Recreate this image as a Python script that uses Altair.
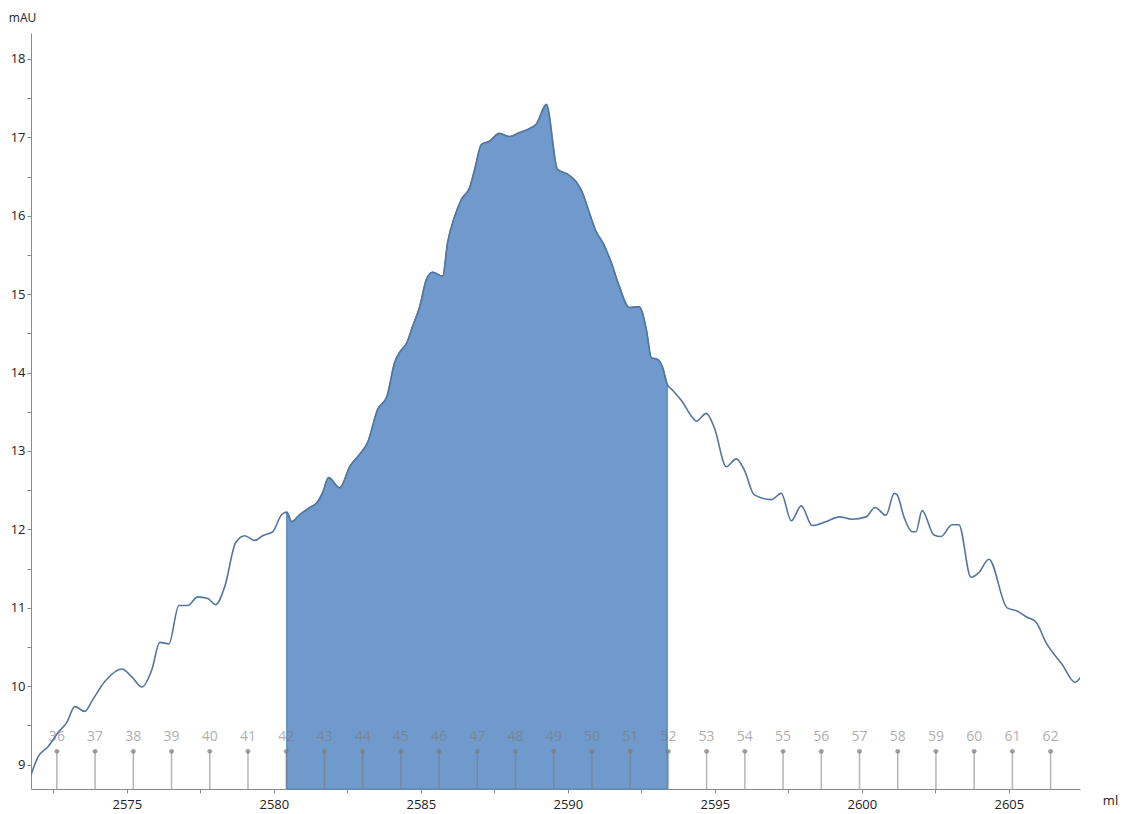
import altair as alt
import pandas as pd

# UV trace (ml, mAU)
volume_ml = [
    2571.74, 2571.98, 2572.32, 2572.66, 2572.96, 2573.23, 2573.57, 2573.84, 2574.25, 2574.83,
    2575.17, 2575.51, 2575.85, 2576.12, 2576.43, 2576.77, 2577.07, 2577.41, 2577.75, 2578.02,
    2578.33, 2578.70, 2579.01, 2579.35, 2579.62, 2579.96, 2580.27, 2580.44, 2580.61, 2580.88,
    2581.22, 2581.46, 2581.66, 2581.86, 2582.24, 2582.58, 2582.92, 2583.19, 2583.53, 2583.84,
    2584.11, 2584.28, 2584.52, 2584.72, 2584.96, 2585.19, 2585.40, 2585.74, 2585.91, 2586.15,
    2586.38, 2586.66, 2586.83, 2587.06, 2587.33, 2587.67, 2588.01, 2588.35, 2588.69, 2588.93,
    2589.27, 2589.65, 2589.99, 2590.29, 2590.49, 2590.73, 2590.97, 2591.17, 2591.48, 2591.75,
    2592.09, 2592.43, 2592.67, 2592.84, 2593.04, 2593.21, 2593.38, 2593.55, 2593.89, 2594.23,
    2594.37, 2594.71, 2594.98, 2595.39, 2595.73, 2596.00, 2596.34, 2596.92, 2597.26, 2597.60,
    2597.94, 2598.31, 2598.79, 2599.23, 2599.67, 2600.14, 2600.45, 2600.82, 2601.10, 2601.20,
    2601.44, 2601.71, 2601.84, 2602.05, 2602.45, 2602.69, 2603.07, 2603.30, 2603.71, 2603.98,
    2604.32, 2604.94, 2605.28, 2605.62, 2605.92, 2606.26, 2606.81, 2607.25, 2607.45,
]
absorbance_mau = [
    8.87, 9.10, 9.23, 9.41, 9.54, 9.74, 9.68, 9.83, 10.06, 10.22,
    10.12, 9.99, 10.21, 10.56, 10.54, 11.03, 11.03, 11.14, 11.12, 11.04,
    11.27, 11.83, 11.92, 11.86, 11.92, 11.97, 12.19, 12.22, 12.10, 12.19,
    12.28, 12.34, 12.47, 12.66, 12.53, 12.80, 12.96, 13.11, 13.53, 13.69,
    14.13, 14.26, 14.38, 14.59, 14.84, 15.19, 15.28, 15.23, 15.66, 15.99,
    16.21, 16.36, 16.59, 16.91, 16.95, 17.05, 17.01, 17.06, 17.11, 17.17,
    17.42, 16.59, 16.53, 16.43, 16.30, 16.04, 15.79, 15.67, 15.40, 15.10,
    14.83, 14.84, 14.55, 14.19, 14.17, 14.08, 13.85, 13.78, 13.63, 13.43,
    13.38, 13.48, 13.30, 12.80, 12.90, 12.76, 12.44, 12.38, 12.46, 12.11,
    12.30, 12.05, 12.10, 12.16, 12.13, 12.16, 12.28, 12.18, 12.46, 12.44,
    12.15, 11.97, 11.97, 12.24, 11.93, 11.91, 12.06, 12.06, 11.39, 11.45,
    11.62, 11.00, 10.96, 10.88, 10.82, 10.56, 10.28, 10.05, 10.12,
]

# Fraction collector marks
fraction_numbers = [36, 37, 38, 39, 40, 41, 42, 43, 44, 45, 46, 47, 48, 49,
                    50, 51, 52, 53, 54, 55, 56, 57, 58, 59, 60, 61, 62]
fraction_ml = [2572.62, 2573.92, 2575.22, 2576.52, 2577.82, 2579.12, 2580.42,
               2581.72, 2583.02, 2584.32, 2585.62, 2586.92, 2588.22, 2589.52,
               2590.82, 2592.12, 2593.42, 2594.72, 2596.02, 2597.32, 2598.62,
               2599.92, 2601.22, 2602.52, 2603.82, 2605.12, 2606.42]

# Pooled fractions 42..52 are shaded
pool_start_ml = 2580.42
pool_end_ml = 2593.45

x_ticks = [2572.5, 2575, 2577.5, 2580, 2582.5, 2585, 2587.5, 2590, 2592.5,
           2595, 2597.5, 2600, 2602.5, 2605]
y_ticks = [9, 9.5, 10, 10.5, 11, 11.5, 12, 12.5, 13, 13.5, 14, 14.5,
           15, 15.5, 16, 16.5, 17, 17.5, 18]

x_domain = [2571.74, 2607.42]
y_domain = [8.69, 18.33]
y_floor = y_domain[0]
mark_dot_level = 9.17
mark_label_level = 9.35

FONT = "Open Sans"

trace = pd.DataFrame({"ml": volume_ml, "mau": absorbance_mau})
trace["floor"] = y_floor
pool = trace[(trace["ml"] >= pool_start_ml) & (trace["ml"] <= pool_end_ml)]

fractions = pd.DataFrame({
    "ml": fraction_ml,
    "label": [str(n) for n in fraction_numbers],
})
fractions["top"] = mark_dot_level
fractions["floor"] = y_floor
fractions["text_y"] = mark_label_level

x_scale = alt.Scale(domain=x_domain, nice=False, zero=False)
y_scale = alt.Scale(domain=y_domain, nice=False, zero=False)

x_axis = alt.Axis(
    values=x_ticks,
    labelExpr="datum.value % 5 === 0 ? format(datum.value, 'd') : ''",
    grid=False, domainColor="#8a8a8a", tickColor="#8a8a8a", tickSize=4,
    labelColor="#222222", labelFont=FONT, labelFontSize=13, labelPadding=5,
    title="ml", titleFont=FONT, titleFontSize=13, titleFontWeight="normal",
    titleColor="#222222", titleAngle=0, titleX=1079, titleY=11,
    titleAlign="center", titleBaseline="middle",
)
y_axis = alt.Axis(
    values=y_ticks,
    labelExpr="datum.value % 1 === 0 ? format(datum.value, 'd') : ''",
    grid=False, domainColor="#8a8a8a", tickColor="#8a8a8a", tickSize=4,
    labelColor="#222222", labelFont=FONT, labelFontSize=13, labelPadding=2,
    title="mAU", titleFont=FONT, titleFontSize=12, titleFontWeight="normal",
    titleColor="#222222", titleAngle=0, titleX=-9, titleY=-16,
    titleAlign="center", titleBaseline="middle",
)

pool_area = alt.Chart(pool).mark_area(
    color="#6f9acb", opacity=1, stroke="#5582bb", strokeWidth=1.2, interpolate="monotone"
).encode(
    x=alt.X("ml:Q", scale=x_scale, axis=x_axis),
    y=alt.Y("mau:Q", scale=y_scale, axis=y_axis),
    y2="floor:Q",
)

stems = alt.Chart(fractions).mark_rule(color="#7a7a7a", strokeWidth=1.5, opacity=0.55).encode(
    x=alt.X("ml:Q", scale=x_scale),
    y=alt.Y("top:Q", scale=y_scale),
    y2="floor:Q",
)
dots = alt.Chart(fractions).mark_circle(color="#7a7a7a", size=24, opacity=0.7).encode(
    x=alt.X("ml:Q", scale=x_scale),
    y=alt.Y("top:Q", scale=y_scale),
)
labels = alt.Chart(fractions).mark_text(
    color="#7a7a7a", opacity=0.6, font=FONT, fontSize=14, baseline="middle", align="center"
).encode(
    x=alt.X("ml:Q", scale=x_scale),
    y=alt.Y("text_y:Q", scale=y_scale),
    text="label:N",
)

trace_line = alt.Chart(trace).mark_line(
    color="#52769f", strokeWidth=1.6, clip=True, interpolate="monotone"
).encode(
    x=alt.X("ml:Q", scale=x_scale),
    y=alt.Y("mau:Q", scale=y_scale),
)

chart = alt.layer(pool_area, stems, dots, labels, trace_line).properties(
    width=1049,
    height=756,
    autosize=alt.AutoSizeParams(type="none"),
    padding={"left": 31, "top": 33, "right": 50, "bottom": 25},
    background="white",
).configure_view(stroke=None)

chart.save("out.html", embed_options={"renderer": "svg", "actions": False})
